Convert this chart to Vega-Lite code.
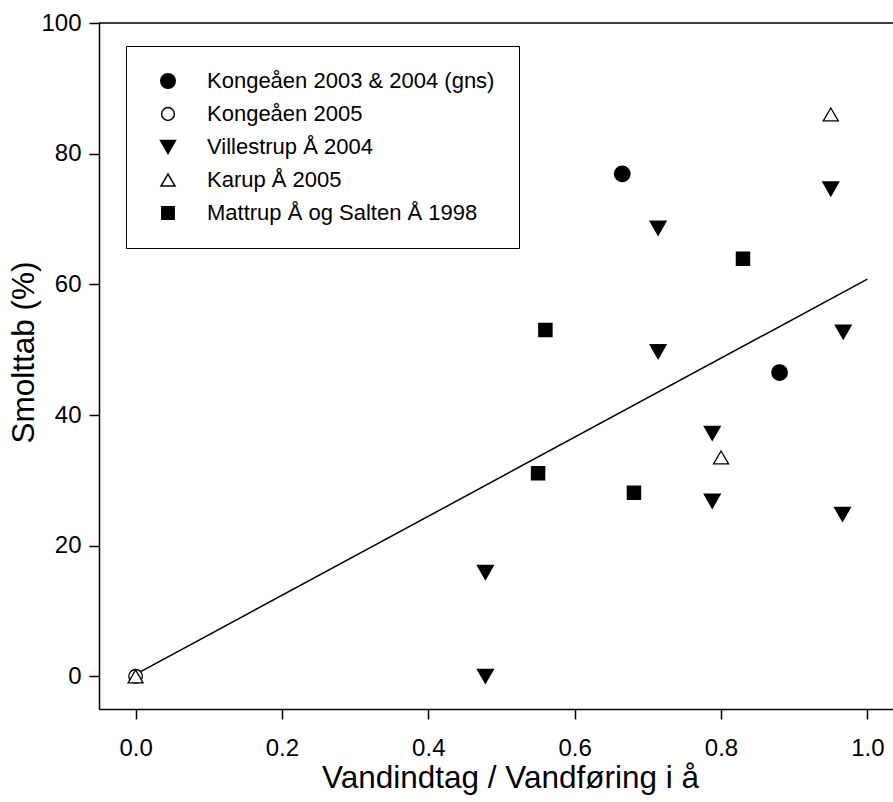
{
  "$schema": "https://vega.github.io/schema/vega-lite/v6.json",
  "width": 794,
  "height": 686,
  "autosize": {"type": "none"},
  "padding": {"left": 99, "top": 23, "right": 0, "bottom": 93},
  "background": "white",
  "config": {
    "view": {"stroke": null},
    "font": "Liberation Sans",
    "axis": {
      "domainColor": "black",
      "domainWidth": 1.5,
      "tickColor": "black",
      "tickWidth": 1.5,
      "tickSize": 10,
      "labelColor": "black",
      "labelFontSize": 24,
      "titleColor": "black",
      "titleFontSize": 31.5,
      "titleFontWeight": "normal",
      "grid": false
    },
    "legend": {
      "strokeColor": "black", "strokeWidth": 1, "fillColor": "white",
      "padding": 24, "rowPadding": 11, "symbolOffset": 7, "labelOffset": 28,
      "labelFontSize": 22, "labelColor": "black", "labelLimit": 400,
      "symbolSize": 210
    }
  },
  "layer": [
    {
      "data": {"values": [{"y": 100}]},
      "mark": {"type": "rule", "color": "black", "strokeWidth": 1.5},
      "encoding": {"y": {"field": "y", "type": "quantitative"}}
    },
    {
      "data": {"values": [{"x": 0, "y": 0.3}, {"x": 1.0, "y": 60.8}]},
      "mark": {"type": "line", "color": "black", "strokeWidth": 1.5},
      "encoding": {
        "x": {"field": "x", "type": "quantitative"},
        "y": {"field": "y", "type": "quantitative"}
      }
    },
    {
      "data": {
        "values": [
          {"series": "Kongeåen 2005", "x": 0, "y": 0},
          {"series": "Karup Å 2005", "x": 0, "y": 0},
          {"series": "Karup Å 2005", "x": 0.8, "y": 33.5},
          {"series": "Karup Å 2005", "x": 0.95, "y": 86.0},
          {"series": "Kongeåen 2003 & 2004 (gns)", "x": 0.665, "y": 76.9},
          {"series": "Kongeåen 2003 & 2004 (gns)", "x": 0.88, "y": 46.5},
          {"series": "Villestrup Å 2004", "x": 0.478, "y": 0},
          {"series": "Villestrup Å 2004", "x": 0.478, "y": 15.9},
          {"series": "Villestrup Å 2004", "x": 0.714, "y": 68.6},
          {"series": "Villestrup Å 2004", "x": 0.714, "y": 49.7},
          {"series": "Villestrup Å 2004", "x": 0.788, "y": 37.2},
          {"series": "Villestrup Å 2004", "x": 0.788, "y": 26.8},
          {"series": "Villestrup Å 2004", "x": 0.95, "y": 74.6},
          {"series": "Villestrup Å 2004", "x": 0.967, "y": 52.7},
          {"series": "Villestrup Å 2004", "x": 0.966, "y": 24.8},
          {"series": "Mattrup Å og Salten Å 1998", "x": 0.55, "y": 31.1},
          {"series": "Mattrup Å og Salten Å 1998", "x": 0.56, "y": 53.0},
          {"series": "Mattrup Å og Salten Å 1998", "x": 0.681, "y": 28.1},
          {"series": "Mattrup Å og Salten Å 1998", "x": 0.83, "y": 63.9}
        ]
      },
      "mark": {"type": "point", "filled": true, "stroke": "black", "strokeWidth": 1.3, "opacity": 1, "fillOpacity": 1, "size": 240},
      "encoding": {
        "x": {
          "field": "x", "type": "quantitative",
          "scale": {"domain": [-0.05, 1.035], "nice": false, "zero": false},
          "axis": {"values": [0, 0.2, 0.4, 0.6, 0.8, 1.0], "format": ".1f", "labelPadding": 17,
                   "title": "Vandindtag / Vandføring i å", "titleX": 411, "titleY": 78, "titleBaseline": "alphabetic"}
        },
        "y": {
          "field": "y", "type": "quantitative",
          "scale": {"domain": [-5, 100], "nice": false, "zero": false},
          "axis": {"values": [0, 20, 40, 60, 80, 100], "labelPadding": 8,
                   "title": "Smolttab (%)", "titleX": -66, "titleY": 329, "titleAngle": 270, "titleBaseline": "alphabetic", "titleAlign": "center"}
        },
        "shape": {
          "field": "series", "type": "nominal",
          "scale": {
            "domain": ["Kongeåen 2003 & 2004 (gns)", "Kongeåen 2005", "Villestrup Å 2004", "Karup Å 2005", "Mattrup Å og Salten Å 1998"],
            "range": ["circle", "M-0.88,0A0.88,0.88 0 1,0 0.88,0A0.88,0.88 0 1,0 -0.88,0Z", "M-1.03,-0.9L1.03,-0.9L0,0.9Z", "M-0.97,0.84L0.97,0.84L0,-0.84Z", "M-0.85,-0.85L0.85,-0.85L0.85,0.85L-0.85,0.85Z"]
          },
          "legend": {"orient": "none", "legendX": 27, "legendY": 23, "title": null,
                     "encode": {"symbols": {"update": {"stroke": {"value": "black"}, "strokeWidth": {"value": 1.3}, "opacity": {"value": 1}}}}}
        },
        "fill": {
          "field": "series", "type": "nominal",
          "scale": {
            "domain": ["Kongeåen 2003 & 2004 (gns)", "Kongeåen 2005", "Villestrup Å 2004", "Karup Å 2005", "Mattrup Å og Salten Å 1998"],
            "range": ["black", "white", "black", "white", "black"]
          },
          "legend": {"orient": "none", "legendX": 27, "legendY": 23, "title": null,
                     "encode": {"symbols": {"update": {"stroke": {"value": "black"}, "strokeWidth": {"value": 1.3}, "opacity": {"value": 1}}}}}
        }
      }
    }
  ]
}
